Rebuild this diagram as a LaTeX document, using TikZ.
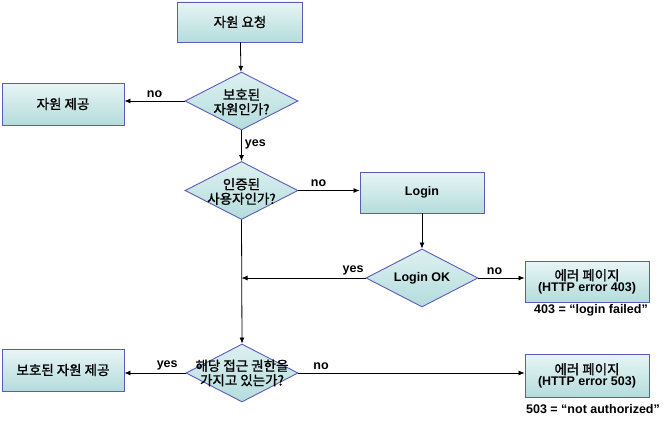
\documentclass[tikz,border=0pt]{standalone}
\usepackage{fontspec}
\setmainfont{Liberation Sans}
\newfontfamily\kr{Noto Sans CJK KR}[FakeBold=1.2]
\usetikzlibrary{shapes.geometric,arrows.meta}
\definecolor{edgeblue}{RGB}{92,92,184}
\definecolor{filltop}{RGB}{232,245,245}
\definecolor{fillbot}{RGB}{180,220,220}
\definecolor{dfill}{RGB}{196,230,230}
\tikzset{
  boxnode/.style={draw=edgeblue, line width=0.9pt, top color=filltop, bottom color=fillbot,
    minimum width=124pt, minimum height=41pt, inner sep=0pt, align=center},
  decnode/.style={diamond, draw=edgeblue, line width=0.9pt, top color=filltop!70!dfill, bottom color=fillbot,
    minimum width=113pt, minimum height=58pt, inner sep=0pt, aspect=1.95},
  krtext/.style={font=\kr\fontsize{13.5}{14.5}\selectfont},
  lattext/.style={font=\bfseries\fontsize{12.5}{14.5}\selectfont},
  lbl/.style={font=\bfseries\fontsize{12.5}{14}\selectfont, inner sep=0pt},
  arr/.style={-{Latex[length=6pt,width=5pt]}, line width=0.8pt},
  ln/.style={line width=0.8pt}
}
\begin{document}
\begin{tikzpicture}[x=1pt,y=-1pt]
\useasboundingbox[fill=white] (0,0) rectangle (671,420);
% nodes
\node[boxnode, krtext, minimum width=125pt, minimum height=40pt] (req) at (240,22) {자원 요청};
\node[decnode] (d1) at (241.5,101) {};
\node[krtext, align=center, inner sep=0pt] (d1t) at (241.5,102) {보호된\\자원인가?};
\node[boxnode, krtext, minimum width=122pt, minimum height=42pt] (give) at (63,104) {자원 제공};
\node[decnode] (d2) at (241.5,190.5) {};
\node[krtext, align=center, inner sep=0pt] (d2t) at (241.5,191.5) {인증된\\사용자인가?};
\node[boxnode, lattext] (login) at (422,192.5) {Login};
\node[decnode, minimum width=112pt] (okd) at (422,278) {};
\node[lattext, inner sep=0pt] (okdt) at (422,278.5) {Login OK};
\node[boxnode, align=center] (e403) at (587,281.5) {{\kr\fontsize{13.5}{14}\selectfont 에러 페이지}\\[-1pt]{\bfseries\fontsize{12.5}{14}\selectfont (HTTP error 403)}};
\node[lbl] (c403) at (591,310) {403 = “login failed”};
\node[decnode, minimum width=112pt] (d3) at (242,373) {};
\node[krtext, align=center, inner sep=0pt] (d3t) at (242,373) {해당 접근 권한을\\가지고 있는가?};
\node[boxnode, krtext, minimum width=122pt, minimum height=42pt] (give2) at (63,370) {보호된 자원 제공};
\node[boxnode, align=center, minimum height=43pt] (e503) at (587,375.5) {{\kr\fontsize{13.5}{14}\selectfont 에러 페이지}\\[-1pt]{\bfseries\fontsize{12.5}{14}\selectfont (HTTP error 503)}};
\node[lbl] (c503) at (593,409) {503 = “not authorized”};
\coordinate (join) at (241.5,278);
% connectors
\draw[arr] (req) -- (d1);
\draw[arr] (d1.west) -- (d1.west -| give.east) node[lbl, midway, above=3pt] {no};
\draw[arr] (d1.south) -- (d2.north) node[lbl, pos=0.45, right=3pt] {yes};
\draw[arr] (d2.east) -- (d2.east -| login.west) node[lbl, pos=0.33, above=3pt] {no};
\draw[arr] (login.south) -- (okd.north);
\draw[arr] (okd.east) -- (okd.east -| e403.west) node[lbl, pos=0.35, above=3pt] {no};
\draw[arr] (okd.west) -- (join) node[lbl, pos=0.1, above=3pt] {yes};
\draw[arr] (d2.south) -- (d3.north);
\draw[arr] (d3.west) -- (d3.west -| give2.east) node[lbl, pos=0.3, above=3pt] {yes};
\draw[arr] (d3.east) -- (d3.east -| e503.west) node[lbl, pos=0.1, above=3pt] {no};
\end{tikzpicture}
\end{document}
